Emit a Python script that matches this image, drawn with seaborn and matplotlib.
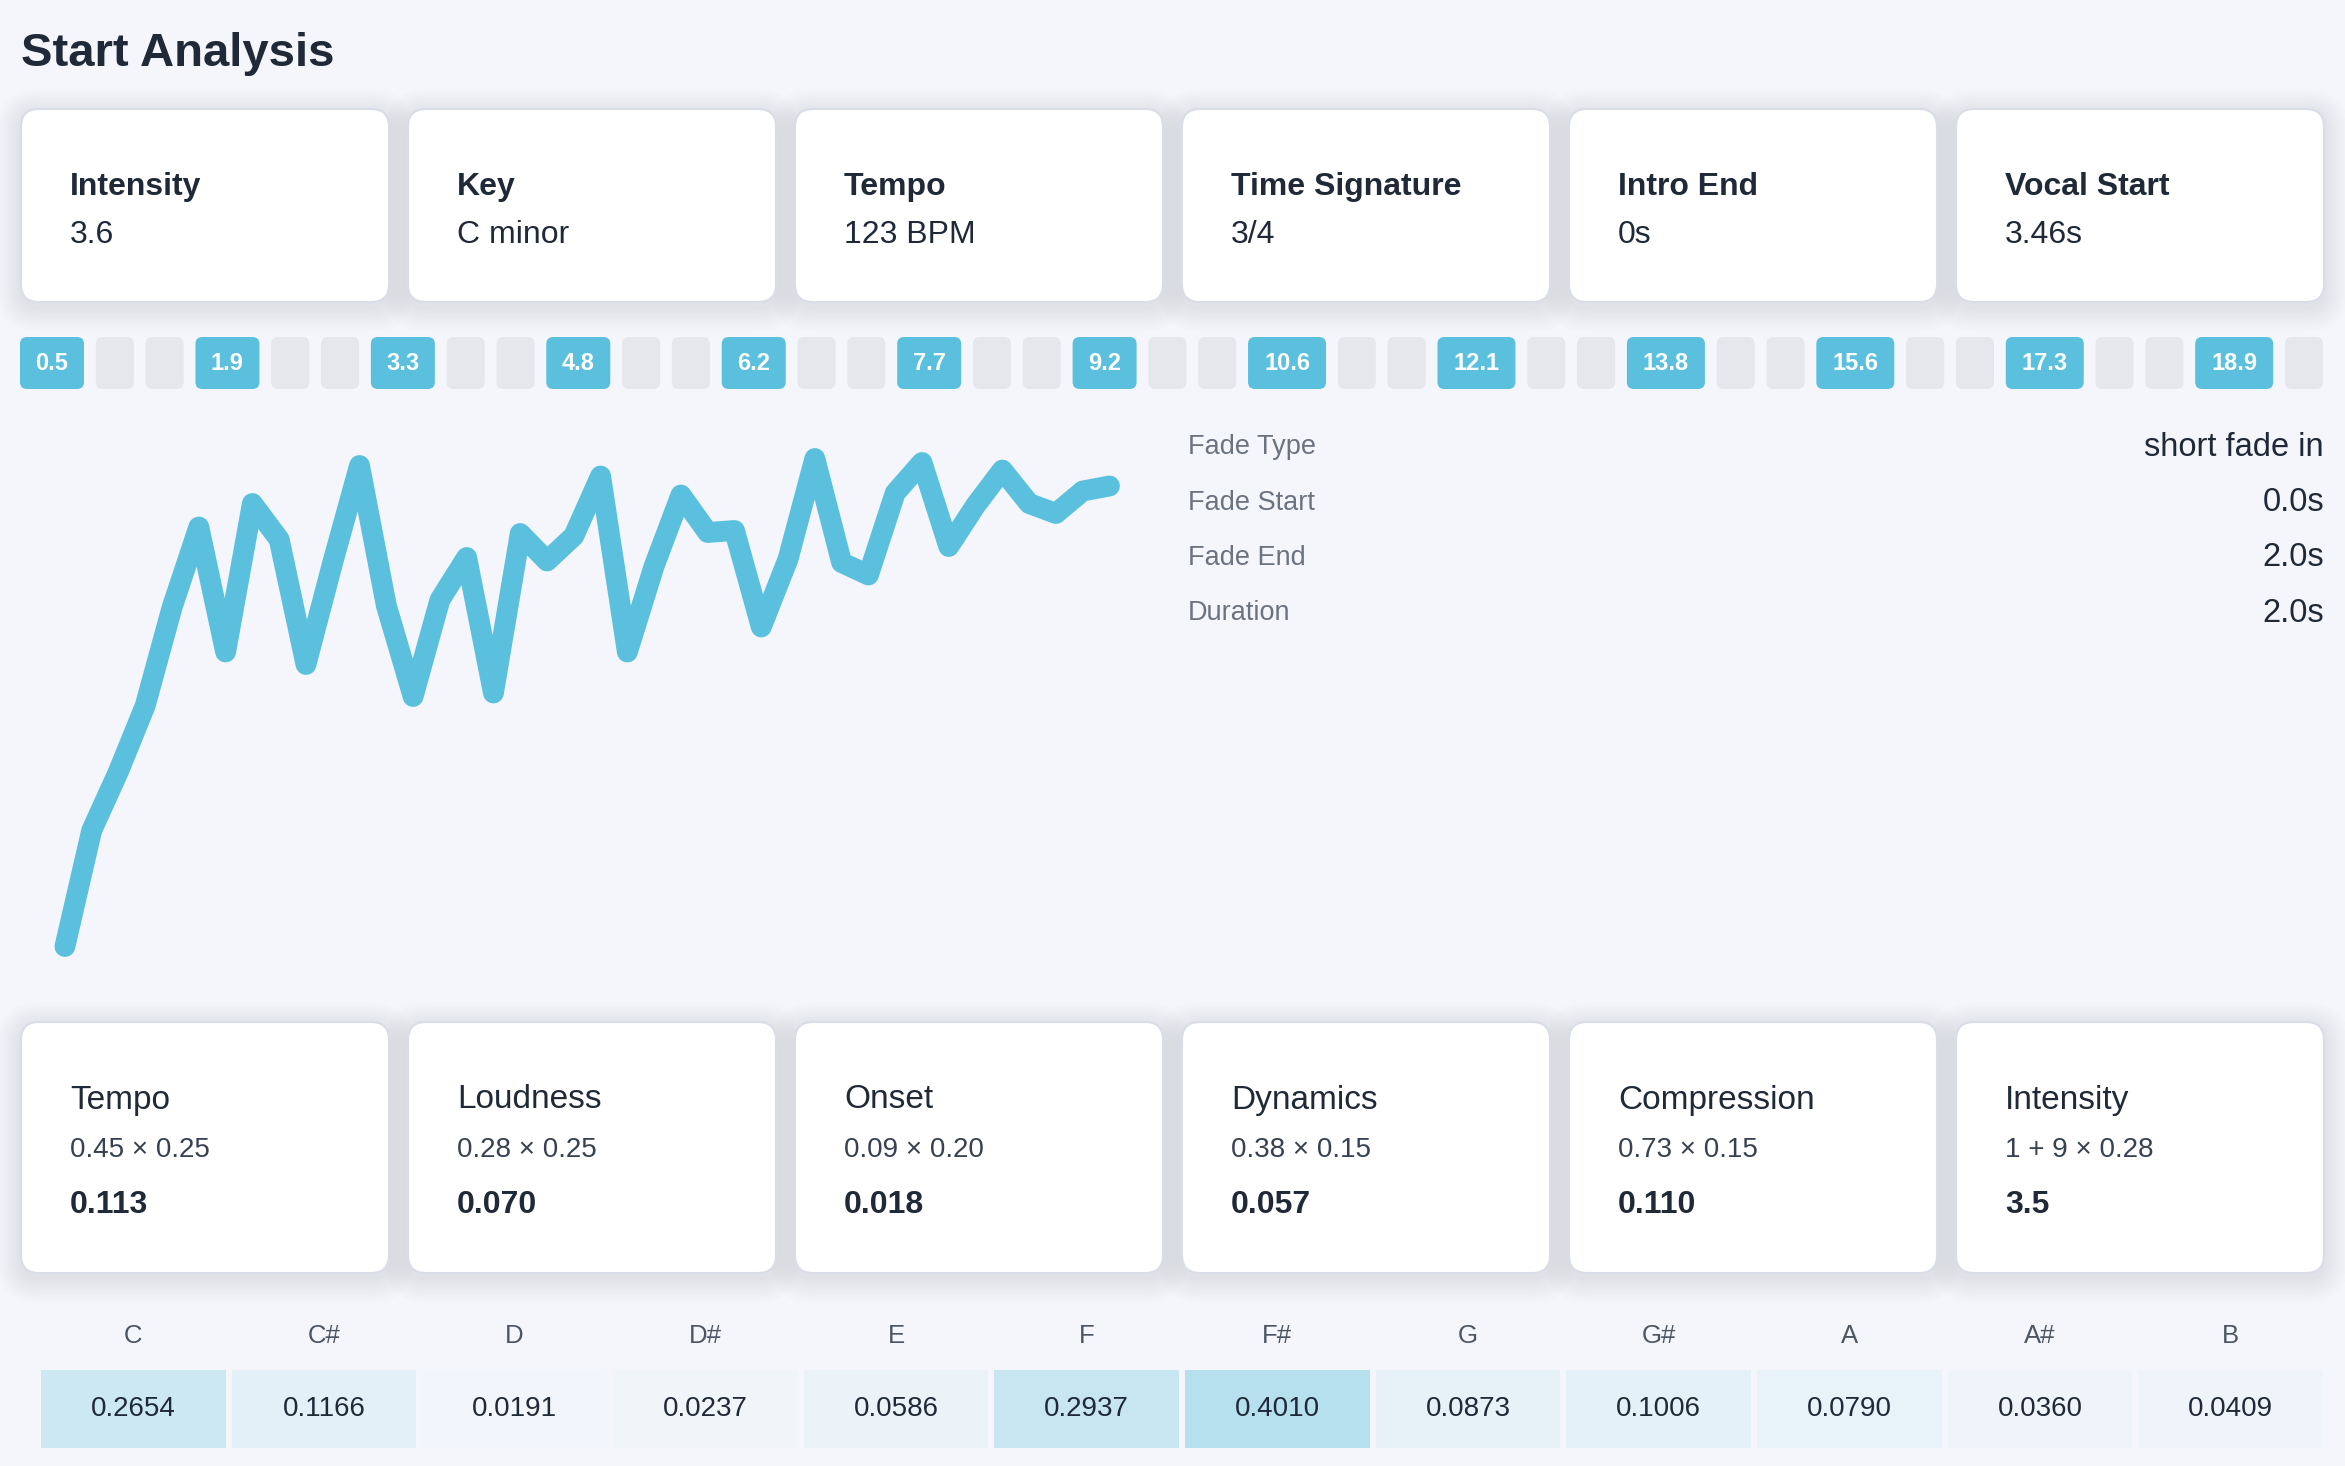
import numpy as np
import pandas as pd
import seaborn as sns
import matplotlib.pyplot as plt
from matplotlib.patches import FancyBboxPatch
from matplotlib.colors import LinearSegmentedColormap

W, H = 2345, 1466
BG = '#f4f6fb'
BLUE = '#5bc0de'
DARK = '#1f2937'
MUTED = '#6b7280'

# summary cards
summary_labels = ['Intensity', 'Key', 'Tempo', 'Time Signature', 'Intro End', 'Vocal Start']
summary_values = ['3.6', 'C minor', '123 BPM', '3/4', '0s', '3.46s']

# detected beats (s)
beat_times = [0.5, 1.9, 3.3, 4.8, 6.2, 7.7, 9.2, 10.6, 12.1, 13.8, 15.6, 17.3, 18.9]

# normalised energy envelope of the intro
envelope = [0.018, 0.250, 0.368, 0.500, 0.696, 0.857, 0.607, 0.904, 0.832, 0.582,
            0.786, 0.980, 0.700, 0.518, 0.711, 0.796, 0.525, 0.844, 0.789, 0.839,
            0.959, 0.607, 0.779, 0.921, 0.846, 0.850, 0.657, 0.793, 0.994, 0.786,
            0.761, 0.925, 0.986, 0.818, 0.900, 0.971, 0.904, 0.884, 0.929, 0.939]

fade_labels = ['Fade Type', 'Fade Start', 'Fade End', 'Duration']
fade_values = ['short fade in', '0.0s', '2.0s', '2.0s']

# intensity breakdown
score_names = ['Tempo', 'Loudness', 'Onset', 'Dynamics', 'Compression', 'Intensity']
score_formulas = ['0.45 × 0.25', '0.28 × 0.25', '0.09 × 0.20', '0.38 × 0.15',
                  '0.73 × 0.15', '1 + 9 × 0.28']
score_results = ['0.113', '0.070', '0.018', '0.057', '0.110', '3.5']

# chroma profile
notes = ['C', 'C#', 'D', 'D#', 'E', 'F', 'F#', 'G', 'G#', 'A', 'A#', 'B']
chroma = [0.2654, 0.1166, 0.0191, 0.0237, 0.0586, 0.2937,
          0.4010, 0.0873, 0.1006, 0.0790, 0.0360, 0.0409]

sns.set_theme(style='white')
plt.rcParams['font.family'] = ['Liberation Sans', 'DejaVu Sans']

fig = plt.figure(figsize=(W / 100, H / 100), dpi=100, facecolor=BG)
canvas = fig.add_axes([0, 0, 1, 1])
canvas.set_xlim(0, W)
canvas.set_ylim(H, 0)
canvas.axis('off')


def card(x, y, w, h):
    # soft shadow, then the white card
    for k in range(10):
        s = 2 + 2.5 * k
        canvas.add_patch(FancyBboxPatch((x - s, y - s + 5), w + 2 * s, h + 2 * s,
                                        boxstyle=f'round,pad=0,rounding_size={18 + s}',
                                        fc='#64748b', ec='none', alpha=0.013, zorder=1))
    canvas.add_patch(FancyBboxPatch((x, y), w, h, boxstyle='round,pad=0,rounding_size=18',
                                    fc='white', ec='#d9dde7', lw=1.5, zorder=2))


canvas.text(21, 54, 'Start Analysis', fontsize=34, fontweight='bold', color=DARK,
            va='center', ha='left')

card_w, card_gap, left = 368, 19, 21
for i, (lab, val) in enumerate(zip(summary_labels, summary_values)):
    x = left + i * (card_w + card_gap)
    card(x, 109, card_w, 193)
    canvas.text(x + 49, 187, lab, fontsize=23, fontweight='bold', color=DARK, va='center', zorder=3)
    canvas.text(x + 49, 235, val, fontsize=23, color=DARK, va='center', zorder=3)

# beat strip: each beat followed by two empty slots
items = []
for i, t in enumerate(beat_times):
    lab = f'{t:.1f}'
    items.append((lab, 22 + 14 * len(lab)))
    n_empty = 2 if i < len(beat_times) - 1 else 1
    items += [(None, 38)] * n_empty
gap = (2323 - 20 - sum(w for _, w in items)) / (len(items) - 1)
x = 20
for lab, w in items:
    fc = BLUE if lab else '#e5e7eb'
    canvas.add_patch(FancyBboxPatch((x, 337), w, 52, boxstyle='round,pad=0,rounding_size=7',
                                    fc=fc, ec='none', zorder=2))
    if lab:
        canvas.text(x + w / 2, 364, lab, fontsize=17, fontweight='bold', color='white',
                    ha='center', va='center', zorder=3)
    x += w + gap

# envelope line
ax_line = fig.add_axes([40 / W, 1 - 990 / H, 1100 / W, 570 / H])
df = pd.DataFrame({'frame': np.arange(len(envelope)), 'energy': envelope})
sns.lineplot(data=df, x='frame', y='energy', ax=ax_line, color=BLUE, linewidth=15,
             solid_capstyle='round', solid_joinstyle='round')
ax_line.set_xlim(-0.93, 40.14)
ax_line.set_ylim(-0.069, 1.071)
ax_line.axis('off')

for i, (lab, val) in enumerate(zip(fade_labels, fade_values)):
    y = 447 + i * 55.5
    canvas.text(1188, y, lab, fontsize=19.5, color=MUTED, ha='left', va='center')
    canvas.text(2324, y, val, fontsize=23.5, color=DARK, ha='right', va='center')

for i, (name, form, res) in enumerate(zip(score_names, score_formulas, score_results)):
    x = left + i * (card_w + card_gap)
    card(x, 1022, card_w, 251)
    canvas.text(x + 49, 1100, name, fontsize=24, fontweight='medium', color=DARK, va='center', zorder=3)
    canvas.text(x + 49, 1150, form, fontsize=20, color='#374151', va='center', zorder=3)
    canvas.text(x + 49, 1205, res, fontsize=23, fontweight='bold', color=DARK, va='center', zorder=3)

# chroma heatmap
cmap = LinearSegmentedColormap.from_list('chroma', [BG, BLUE])
ax_h = fig.add_axes([38 / W, 1 - 1451 / H, (2326 - 38) / W, (1451 - 1367) / H])
sns.heatmap(np.array([chroma]), ax=ax_h, cmap=cmap, vmin=0, vmax=1, cbar=False,
            annot=True, fmt='.4f', annot_kws={'size': 20, 'color': DARK},
            linewidths=3, linecolor=BG, xticklabels=notes, yticklabels=False)
ax_h.tick_params(axis='x', top=True, labeltop=True, bottom=False, labelbottom=False,
                 length=0, pad=14, labelsize=18.5, labelcolor='#4b5563', rotation=0)
ax_h.set_xlabel('')
ax_h.set_ylabel('')

fig.savefig('out.png', dpi=100, facecolor=BG)
